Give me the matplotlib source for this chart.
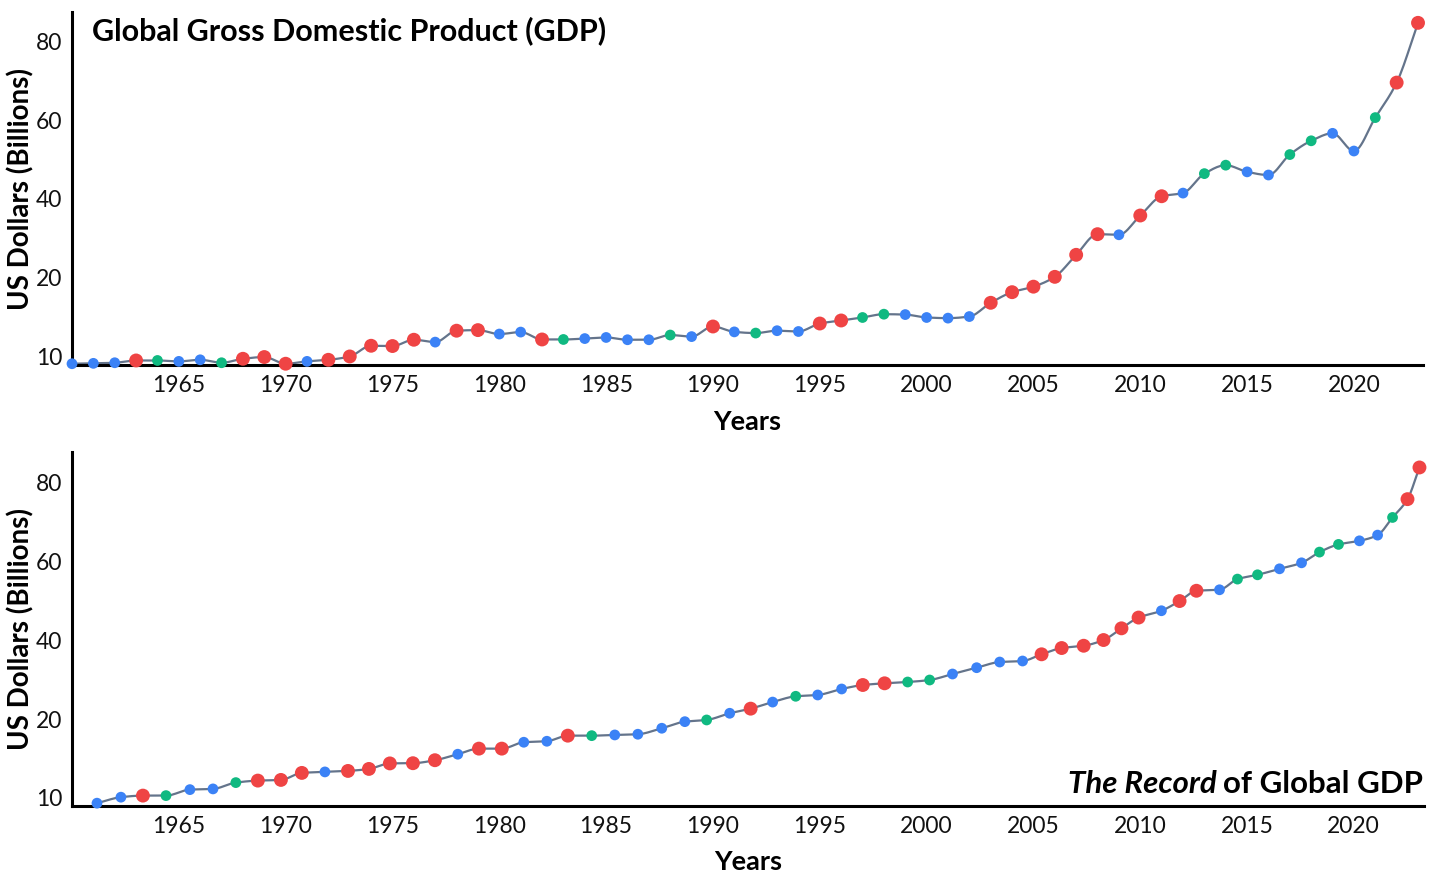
import numpy as np
import matplotlib
matplotlib.use("Agg")
import matplotlib.pyplot as plt

plt.rcParams['font.family'] = ['Lato', 'DejaVu Sans']

# colours
RED = '#ef4444'
BLUE = '#3b82f6'
GREEN = '#10b981'
LINE = '#64748b'
cmap = {'r': RED, 'b': BLUE, 'g': GREEN}

# ---- data ----
top_years = list(range(1960, 2024))
top_values = [-1.9, -1.8, -1.65, -1.07, -1.07, -1.3, -0.9, -1.65, -0.64, -0.2,
              -1.9, -1.3, -0.9, -0.05, 2.67, 2.6, 4.2, 3.6, 6.5, 6.65,
              5.65, 6.15, 4.27, 4.27, 4.5, 4.78, 4.2, 4.2, 5.4, 5.0,
              7.57, 6.2, 5.9, 6.5, 6.3, 8.33, 9.1, 9.86, 10.7, 10.6,
              9.86, 9.7, 10.1, 13.6, 16.3, 17.7, 20.2, 25.8, 31.05, 30.9,
              35.8, 40.7, 41.5, 46.45, 48.6, 46.9, 46.1, 51.3, 54.8, 56.7,
              52.2, 60.7, 69.6, 84.8]
top_colors = list("bbbrgbbgrrrbrrrrrbrrbbrgbbbbgbrbgbbrrggbbbbrrrrrrbrrbggbbggbbgrr")

bottom_x = [1961.17, 1962.29, 1963.32, 1964.40, 1965.52, 1966.60, 1967.67, 1968.70,
            1969.78, 1970.76, 1971.84, 1972.92, 1973.90, 1974.88, 1975.96, 1976.99,
            1978.06, 1979.05, 1980.12, 1981.15, 1982.23, 1983.21, 1984.33, 1985.41,
            1986.49, 1987.61, 1988.69, 1989.71, 1990.79, 1991.77, 1992.80, 1993.88,
            1994.91, 1996.03, 1997.02, 1998.04, 1999.12, 2000.15, 2001.22, 2002.35,
            2003.43, 2004.50, 2005.39, 2006.33, 2007.36, 2008.29, 2009.13, 2009.93,
            2011.00, 2011.85, 2012.64, 2013.72, 2014.56, 2015.50, 2016.53, 2017.56,
            2018.40, 2019.29, 2020.27, 2021.12, 2021.82, 2022.52, 2023.08]
bottom_values = [-1.34, 0.18, 0.58, 0.58, 2.1, 2.28, 3.88, 4.39, 4.56, 6.34,
                 6.59, 6.84, 7.35, 8.75, 8.8, 9.56, 11.08, 12.5, 12.5, 14.12,
                 14.37, 15.79, 15.79, 15.97, 16.15, 17.67, 19.34, 19.77, 21.47, 22.64,
                 24.31, 25.78, 26.11, 27.63, 28.64, 29.07, 29.4, 29.91, 31.43, 33.03,
                 34.47, 34.73, 36.43, 38.02, 38.6, 40.05, 43.02, 45.75, 47.48, 49.94,
                 52.55, 52.8, 55.51, 56.6, 58.12, 59.64, 62.36, 64.31, 65.22, 66.67,
                 71.15, 75.79, 83.83]
bottom_colors = top_colors[1:]

ytick_pos = [0, 20, 40, 60, 80]
ytick_labels = ['10', '20', '40', '60', '80']
xtick_years = [1965, 1970, 1975, 1980, 1985, 1990, 1995, 2000, 2005, 2010, 2015, 2020]


def monotone_curve(x, y, n=12):
    # monotone cubic (Fritsch-Carlson) just for drawing the connecting line
    x = np.asarray(x, float)
    y = np.asarray(y, float)
    h = np.diff(x)
    d = np.diff(y) / h
    m = np.zeros_like(y)
    m[0], m[-1] = d[0], d[-1]
    for i in range(1, len(y) - 1):
        if d[i - 1] * d[i] <= 0:
            m[i] = 0
        else:
            w1 = 2 * h[i] + h[i - 1]
            w2 = h[i] + 2 * h[i - 1]
            m[i] = (w1 + w2) / (w1 / d[i - 1] + w2 / d[i])
    xs, ys = [], []
    for i in range(len(x) - 1):
        t = np.linspace(0, 1, n, endpoint=False)
        h00 = 2 * t**3 - 3 * t**2 + 1
        h10 = t**3 - 2 * t**2 + t
        h01 = -2 * t**3 + 3 * t**2
        h11 = t**3 - t**2
        xs.append(x[i] + t * h[i])
        ys.append(h00 * y[i] + h10 * h[i] * m[i] + h01 * y[i + 1] + h11 * h[i] * m[i + 1])
    xs.append([x[-1]])
    ys.append([y[-1]])
    return np.concatenate(xs), np.concatenate(ys)


def draw_panel(ax, x, y, cols, ylim, xlim):
    cx, cy = monotone_curve(x, y)
    ax.plot(cx, cy, color=LINE, lw=1.6, zorder=2, clip_on=False)
    c = [cmap[k] for k in cols]
    s = [100 if k == 'r' else 60 for k in cols]
    ax.scatter(x, y, c=c, s=s, zorder=3, linewidths=0, clip_on=False)
    ax.set_xlim(*xlim)
    ax.set_ylim(*ylim)
    for sp in ['top', 'right']:
        ax.spines[sp].set_visible(False)
    for sp in ['left', 'bottom']:
        ax.spines[sp].set_linewidth(2.2)
        ax.spines[sp].set_color('black')
    ax.set_yticks(ytick_pos)
    ax.set_yticklabels(ytick_labels)
    ax.set_xticks(xtick_years)
    ax.tick_params(axis='both', length=0, labelsize=16.5, colors='#111111')
    ax.tick_params(axis='y', pad=7)
    ax.tick_params(axis='x', pad=7)
    ax.set_xlabel('Years', fontsize=19.5, fontweight='bold', labelpad=10)
    ax.set_ylabel('US Dollars (Billions)', fontsize=20, fontweight='bold', labelpad=1)


fig = plt.figure(figsize=(14.4, 8.73), dpi=100)
ax1 = fig.add_axes([0.05, 0.582, 0.938, 0.404])
ax2 = fig.add_axes([0.05, 0.077, 0.939, 0.405])

draw_panel(ax1, top_years, top_values, top_colors, (-2.2, 87.5), (1960, 2023.22))
draw_panel(ax2, bottom_x, bottom_values, bottom_colors, (-2.0, 87.7), (1960, 2023.3))

ax1.text(0.015, 0.99, 'Global Gross Domestic Product (GDP)', transform=ax1.transAxes,
         fontsize=22, fontweight='bold', ha='left', va='top')

t2 = ax2.text(0.9995, 0.022, 'of Global GDP', transform=ax2.transAxes,
              fontsize=22.5, fontweight='bold', ha='right', va='bottom')
fig.canvas.draw()
bb = t2.get_window_extent().transformed(ax2.transAxes.inverted())
ax2.text(bb.x0, 0.022, 'The Record ', transform=ax2.transAxes,
         fontsize=22.5, fontweight='bold', fontstyle='italic', ha='right', va='bottom')

fig.savefig('out.png', dpi=100)
